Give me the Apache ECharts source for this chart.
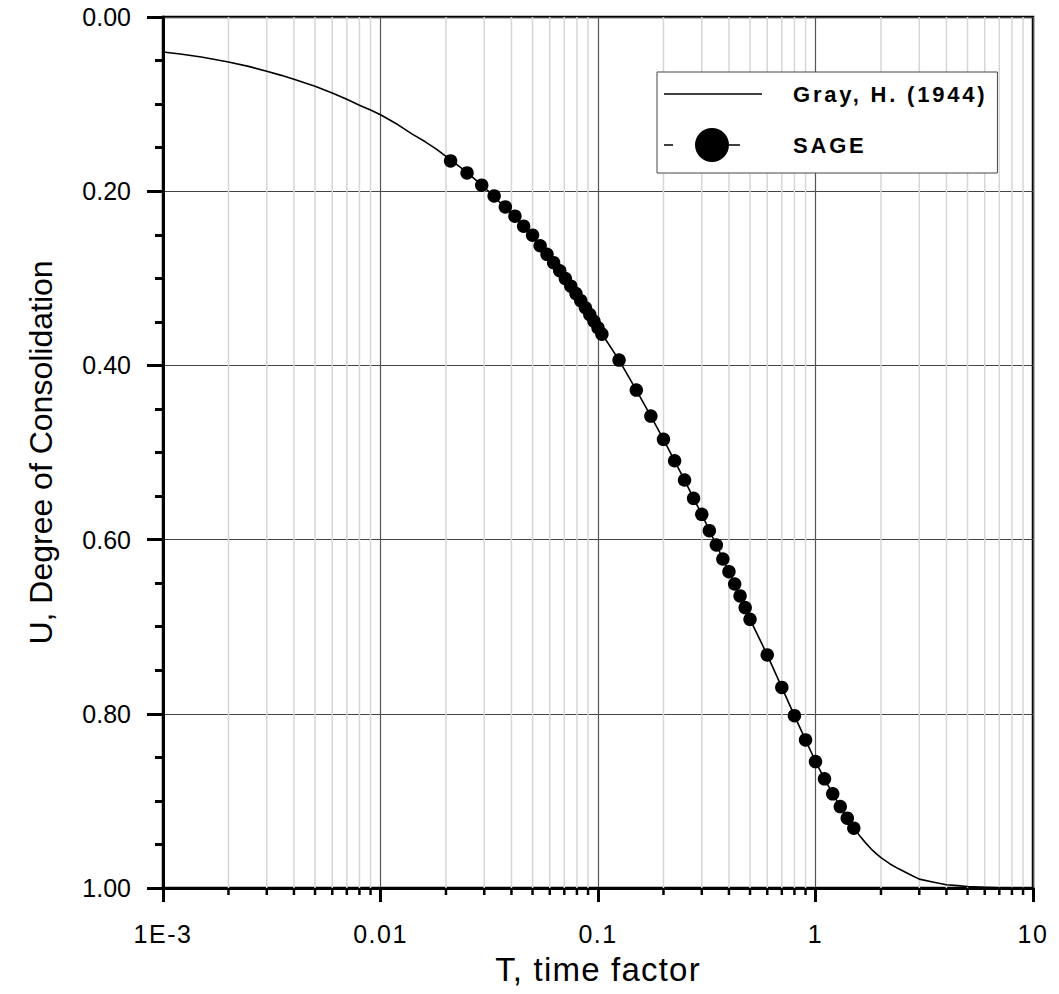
<!DOCTYPE html>
<html>
<head>
<meta charset="utf-8">
<script src="https://cdn.jsdelivr.net/npm/echarts@6/dist/echarts.min.js"></script>
<style>
html,body{margin:0;padding:0;background:#fff;}
#chart{width:1059px;height:994px;}
</style>
</head>
<body>
<div id="chart"></div>
<script>
// ---- data ----
const curveName = 'Gray, H. (1944)';
const pointsName = 'SAGE';

const curveT = [0.001, 0.0012, 0.0015, 0.002, 0.0025, 0.003, 0.0035, 0.004, 0.005, 0.006, 0.007, 0.008, 0.009, 0.01, 0.012, 0.014, 0.016, 0.018, 0.02, 0.025, 0.03, 0.04, 0.05, 0.06, 0.07, 0.08, 0.09, 0.1, 0.125, 0.15, 0.175, 0.2, 0.225, 0.25, 0.275, 0.3, 0.35, 0.4, 0.45, 0.5, 0.6, 0.7, 0.8, 0.9, 1.0, 1.1, 1.2, 1.3, 1.4, 1.5, 1.6, 1.7, 1.8, 1.9, 2.0, 2.2, 2.4, 2.7, 3.0, 3.5, 4.0, 4.5, 5.0, 6.0, 7.0, 8.0, 10];
const curveU = [0.0402, 0.0425, 0.0459, 0.0516, 0.0570, 0.0623, 0.0670, 0.0715, 0.0795, 0.0872, 0.0944, 0.1013, 0.1068, 0.1122, 0.1235, 0.1345, 0.1430, 0.1515, 0.1600, 0.1785, 0.1955, 0.2257, 0.2523, 0.2764, 0.2985, 0.3192, 0.3385, 0.3568, 0.3939, 0.4283, 0.4582, 0.4849, 0.5095, 0.5316, 0.5526, 0.5710, 0.6062, 0.6368, 0.6647, 0.6915, 0.7324, 0.7697, 0.8021, 0.8300, 0.8548, 0.8747, 0.8919, 0.9065, 0.9198, 0.9313, 0.9403, 0.9482, 0.9550, 0.9605, 0.9652, 0.9724, 0.9777, 0.9843, 0.9898, 0.9934, 0.9962, 0.9973, 0.9982, 0.9993, 0.9999, 1.0, 1.0];

const sageT = [0.0210, 0.0250, 0.0292, 0.0333, 0.0375, 0.0415, 0.0455, 0.0500, 0.0542, 0.0583, 0.0625, 0.0667, 0.0708, 0.0750, 0.0792, 0.0833, 0.0875, 0.0917, 0.0958, 0.1000, 0.1042, 0.125, 0.15, 0.175, 0.2, 0.225, 0.25, 0.275, 0.3, 0.325, 0.35, 0.375, 0.4, 0.425, 0.45, 0.475, 0.5, 0.6, 0.7, 0.8, 0.9, 1.0, 1.1, 1.2, 1.3, 1.4, 1.5];
const sageU = [0.1652, 0.1790, 0.1931, 0.2054, 0.2180, 0.2287, 0.2402, 0.2505, 0.2626, 0.2725, 0.2821, 0.2913, 0.3003, 0.3090, 0.3175, 0.3257, 0.3338, 0.3416, 0.3493, 0.3568, 0.3642, 0.3939, 0.4283, 0.4582, 0.4849, 0.5095, 0.5316, 0.5526, 0.5710, 0.5898, 0.6062, 0.6223, 0.6368, 0.6510, 0.6647, 0.6781, 0.6915, 0.7324, 0.7697, 0.8021, 0.8300, 0.8548, 0.8747, 0.8919, 0.9065, 0.9198, 0.9313];

// tick labels
const xTickLabels = {0.001: '1E-3', 0.01: '0.01', 0.1: '0.1', 1: '1', 10: '10'};
const xMinorTicks = [0.002, 0.003, 0.004, 0.005, 0.006, 0.007, 0.008, 0.009,
                     0.02, 0.03, 0.04, 0.05, 0.06, 0.07, 0.08, 0.09,
                     0.2, 0.3, 0.4, 0.5, 0.6, 0.7, 0.8, 0.9,
                     2, 3, 4, 5, 6, 7, 8, 9];
const xTitle = 'T, time factor';
const yTitle = 'U, Degree of Consolidation';

// ---- chart ----
const FONT = "'Liberation Sans', Arial, sans-serif";
const chart = echarts.init(document.getElementById('chart'), null, {renderer: 'svg'});

const lineIcon = 'path://M0,16.2H98V17.8H0Z M123.99,0h0.01v0.01h-0.01Z M0,33.99h0.01v0.01h-0.01Z';
const sageIcon = 'path://M0,16.2H9V17.8H0Z M31,17A17,17 0 1 1 65,17A17,17 0 1 1 31,17Z M65,16.2H76V17.8H65Z M123.99,0h0.01v0.01h-0.01Z M0,33.99h0.01v0.01h-0.01Z';

const option = {
  animation: false,
  backgroundColor: '#fff',
  grid: {
    left: 163, top: 17, width: 870, height: 871,
    show: true, borderColor: '#000', borderWidth: 2.5, backgroundColor: 'transparent'
  },
  legend: {
    left: 657, top: 72,
    orient: 'vertical',
    itemWidth: 124, itemHeight: 34, itemGap: 17,
    padding: [5, 52, 11, 7],
    borderColor: '#444', borderWidth: 1, backgroundColor: '#fff',
    textStyle: {fontFamily: FONT, fontWeight: 'bold', fontSize: 22, color: '#000'},
    selectedMode: false,
    data: [
      {name: curveName, icon: lineIcon, itemStyle: {color: '#000', borderWidth: 0, opacity: 1}},
      {name: pointsName, icon: sageIcon, itemStyle: {color: '#000', borderWidth: 0, opacity: 1}}
    ]
  },
  xAxis: {
    type: 'log', logBase: 10, min: 0.001, max: 10,
    name: xTitle, nameLocation: 'middle', nameGap: 65,
    nameTextStyle: {fontFamily: FONT, fontSize: 33, color: '#000'},
    axisLine: {show: true, onZero: false, lineStyle: {color: '#000', width: 3}},
    axisTick: {show: true, inside: false, length: 14, lineStyle: {color: '#000', width: 3}},
    axisLabel: {
      margin: 33, fontFamily: FONT, fontSize: 25, color: '#000',
      formatter: v => xTickLabels[+v] !== undefined ? xTickLabels[+v] : (+v).toString()
    },
    splitLine: {show: true, lineStyle: {color: '#555', width: 1.2}}
  },
  yAxis: {
    type: 'value', inverse: true, min: 0, max: 1, interval: 0.2,
    name: yTitle, nameLocation: 'middle', nameGap: 106,
    nameTextStyle: {fontFamily: FONT, fontSize: 32, color: '#000'},
    axisLine: {show: true, lineStyle: {color: '#000', width: 3}},
    axisTick: {show: true, inside: false, length: 16, lineStyle: {color: '#000', width: 3}},
    minorTick: {show: true, splitNumber: 4, length: 8, lineStyle: {color: '#000', width: 3}},
    axisLabel: {margin: 32, fontFamily: FONT, fontSize: 25, color: '#000', formatter: v => v.toFixed(2)},
    splitLine: {show: true, lineStyle: {color: '#444', width: 1}}
  },
  series: [
    {
      type: 'custom', name: 'minor', z: 1, silent: true,
      data: xMinorTicks.map(v => [v, 0]),
      encode: {x: 0, y: 1},
      renderItem: function (params, api) {
        const v = api.value(0);
        const top = api.coord([v, 0]);
        const bot = api.coord([v, 1]);
        return {
          type: 'group',
          children: [
            {type: 'line', shape: {x1: top[0], y1: top[1], x2: bot[0], y2: bot[1]}, style: {stroke: '#d6d6d6', lineWidth: 1.5}},
            {type: 'line', shape: {x1: bot[0], y1: bot[1], x2: bot[0], y2: bot[1] + 7}, style: {stroke: '#000', lineWidth: 2.5}}
          ]
        };
      }
    },
    {
      type: 'line', name: curveName, z: 3, silent: true,
      data: curveT.map((t, i) => [t, curveU[i]]),
      showSymbol: false, symbol: 'none',
      lineStyle: {color: '#000', width: 1.6, join: 'round'},
      itemStyle: {color: '#000'}
    },
    {
      type: 'scatter', name: pointsName, z: 4, silent: true,
      data: sageT.map((t, i) => [t, sageU[i]]),
      symbol: 'circle', symbolSize: 13.5,
      itemStyle: {color: '#000', opacity: 1}
    }
  ]
};
chart.setOption(option);

// letter spacing of the original lettering (SVG text styling only)
const xLabelSet = new Set(Object.values(xTickLabels));
function applySpacing() {
  const texts = document.querySelectorAll('#chart svg text');
  texts.forEach(t => {
    const s = t.textContent;
    let sp = '0px';
    if (s === curveName || s === pointsName) sp = '2.8px';
    else if (s === xTitle) sp = '1.2px';
    else if (xLabelSet.has(s)) sp = '1.5px';
    if (t.style.letterSpacing !== sp) t.style.letterSpacing = sp;
  });
}
applySpacing();
chart.on('rendered', applySpacing);
chart.on('finished', applySpacing);
</script>
</body>
</html>
